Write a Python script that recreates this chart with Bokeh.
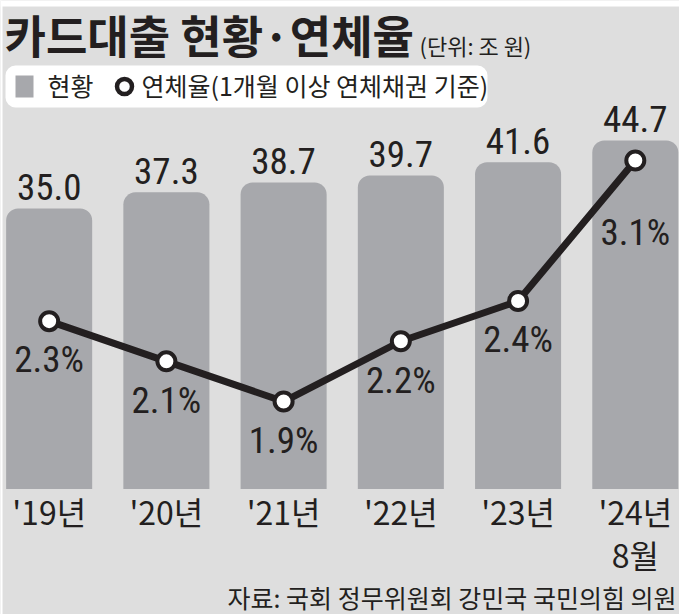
from bokeh.plotting import figure
from bokeh.models import Range1d
from bokeh.core.properties import value
from bokeh.embed import file_html
from bokeh.resources import INLINE

# ---- data ----
years = ["'19년", "'20년", "'21년", "'22년", "'23년", "'24년\n8월"]
loan_balance = [35.0, 37.3, 38.7, 39.7, 41.6, 44.7]      # 조 원
delinquency_rate = [2.3, 2.1, 1.9, 2.2, 2.4, 3.1]        # %
balance_labels = [f"{v:.1f}" for v in loan_balance]
rate_labels = [f"{v:.1f}%" for v in delinquency_rate]
title = "카드대출 현황·연체율"
unit = "(단위: 조 원)"
legend_bar = "현황"
legend_line = "연체율(1개월 이상 연체채권 기준)"
source = "자료: 국회 정무위원회 강민국 국민의힘 의원"

# ---- style ----
W, H = 679, 614
BG = "#dedede"
BAR = "#a7a8ac"
INK = "#231f20"
NUM_FONT = "Liberation Sans Narrow, Roboto Condensed, DejaVu Sans Condensed, Noto Sans CJK KR, sans-serif"
KR_FONT = "Noto Sans CJK KR"
TICK_FONT = "Liberation Sans Narrow, Noto Sans CJK KR, sans-serif"
BAR_BASE = -5.0
K_NUM = 0.33   # baseline correction (em) for narrow latin font
K_KR = 0.45    # baseline correction (em) for CJK font

idx = list(range(len(years)))

p = figure(width=W, height=H, output_backend="svg", toolbar_location=None,
           x_range=Range1d(0, W), y_range=Range1d(H, 0),
           x_axis_type=None, y_axis_type=None, min_border=0)
p.grid.visible = False
p.outline_line_color = None
p.background_fill_color = BG
p.border_fill_color = BG
p.extra_x_ranges = {"idx": Range1d(-0.415, 5.377)}
p.extra_y_ranges = {"amt": Range1d(-22.92, 64.67), "rate": Range1d(0.840, 3.896)}

# white paper edges of the clipping
p.quad(left=[0], right=[W], top=[0], bottom=[6], fill_color="white", line_color=None)
p.quad(left=[0], right=[2], top=[0], bottom=[H], fill_color="white", line_color=None)

# bars
p.vbar(x=idx, top=loan_balance, bottom=BAR_BASE, width=0.734,
       x_range_name="idx", y_range_name="amt",
       fill_color=BAR, line_color=None, border_radius=(12, 12, 0, 0))

p.text(x=idx, y=loan_balance, text=balance_labels,
       x_range_name="idx", y_range_name="amt",
       text_align="center", text_baseline="alphabetic",
       y_offset=-9 - K_NUM * 37,
       text_font=value(NUM_FONT), text_font_size="37px", text_color=INK)

# line
p.line(x=idx, y=delinquency_rate, x_range_name="idx", y_range_name="rate",
       line_color=INK, line_width=7)
p.scatter(x=idx, y=delinquency_rate, x_range_name="idx", y_range_name="rate",
          size=18, fill_color="white", line_color=INK, line_width=4)

rate_dy = [51 - K_NUM * 37] * 5 + [84 - K_NUM * 37]
p.text(x=idx, y=delinquency_rate, text=rate_labels,
       x_range_name="idx", y_range_name="rate",
       text_align="center", text_baseline="alphabetic", y_offset=rate_dy,
       text_font=value(NUM_FONT), text_font_size="37px", text_color=INK)

# category labels
p.text(x=idx, y=487, text=years, x_range_name="idx",
       text_align="center", text_baseline="top", text_line_height=0.94,
       text_font=value(TICK_FONT), text_font_size="32px", text_color=INK)

# title
p.text(x=[4], y=[54 - K_KR * 45], text=[title], text_font=value(KR_FONT),
       text_font_style="bold", text_font_size="45px", text_color=INK,
       text_baseline="alphabetic")
p.text(x=[419], y=[54 - K_KR * 22], text=[unit], text_font=value(KR_FONT),
       text_font_size="22px", text_color=INK, text_baseline="alphabetic")

# legend
p.quad(left=[5], right=[487], top=[65], bottom=[107], fill_color="white",
       line_color=None, border_radius=10)
p.quad(left=[15], right=[33], top=[75], bottom=[97], fill_color=BAR,
       line_color=None)
p.text(x=[47], y=[96 - K_KR * 25], text=[legend_bar], text_font=value(KR_FONT),
       text_font_size="25px", text_color=INK, text_baseline="alphabetic")
p.scatter(x=[124], y=[86], size=15, fill_color="white",
          line_color=INK, line_width=4.5)
p.text(x=[141], y=[96 - K_KR * 25], text=[legend_line], text_font=value(KR_FONT),
       text_font_size="25px", text_color=INK, text_baseline="alphabetic")

# source
p.text(x=[676], y=[608 - K_KR * 25], text=[source], text_font=value(KR_FONT),
       text_font_size="25px", text_color=INK, text_align="right",
       text_baseline="alphabetic")

open("out.html", "w").write(file_html(p, INLINE))
